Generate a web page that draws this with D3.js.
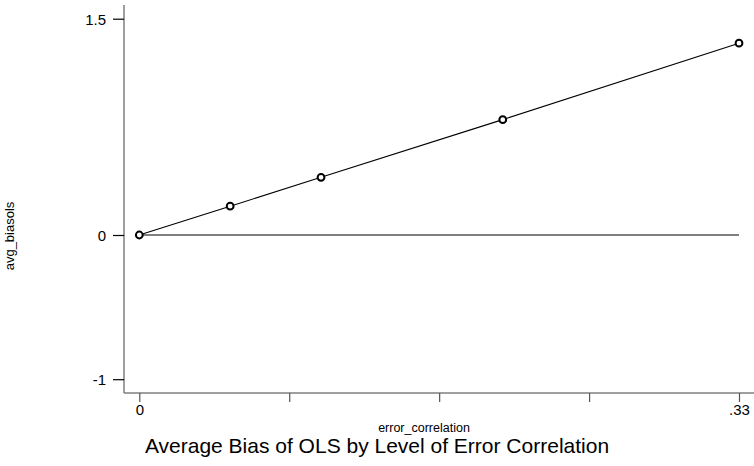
<!DOCTYPE html>
<html>
<head>
<meta charset="utf-8">
<script src="https://cdn.jsdelivr.net/npm/d3@7"></script>
<style>
  body { margin: 0; background: #fff; }
  text { font-family: Arial, "Liberation Sans", sans-serif; fill: #000; }
</style>
</head>
<body>
<script>
// data
var errCorr = [0, 0.05, 0.1, 0.2, 0.33];
var avgBias = [0, 0.2, 0.4, 0.8, 1.33];
var yTicks = [-1, 0, 1.5];
var xTicks = [0, 0.0825, 0.165, 0.2475, 0.33];
var xTickLabels = ["0", "", "", "", ".33"];

var W = 754, H = 466;
var axisX = 124, axisY = 393;
var font = "Arial, 'Liberation Sans', sans-serif";

var svg = d3.select("body").append("svg")
    .attr("width", W)
    .attr("height", H);

var xScale = d3.scaleLinear().domain([0, 0.33]).range([139.3, 739]);
var yScale = d3.scaleLinear().domain([-1, 1.5]).range([379.2, 18.7]);

// axis lines (gray)
svg.append("line")
    .attr("x1", axisX).attr("x2", axisX)
    .attr("y1", 5).attr("y2", axisY)
    .attr("stroke", "#7f7f7f").attr("stroke-width", 1.5);
svg.append("line")
    .attr("x1", axisX).attr("x2", W)
    .attr("y1", axisY).attr("y2", axisY)
    .attr("stroke", "#7f7f7f").attr("stroke-width", 1.5);

// y axis
var yAxis = svg.append("g")
    .attr("transform", `translate(${axisX},0)`)
    .call(d3.axisLeft(yScale).tickValues(yTicks).tickSize(11).tickSizeOuter(0)
        .tickFormat(function(d){ return String(d); }));
yAxis.select(".domain").remove();
yAxis.attr("font-size", null).attr("font-family", null);
yAxis.selectAll(".tick line").attr("stroke", "#000").attr("stroke-width", 1.2);
yAxis.selectAll(".tick text").attr("x", -18).attr("dy", "0.36em")
    .style("font-size", "15px").style("font-family", font);

// x axis
var xAxis = svg.append("g")
    .attr("transform", `translate(0,${axisY})`)
    .call(d3.axisBottom(xScale).tickValues(xTicks).tickSize(9).tickSizeOuter(0)
        .tickFormat(function(d, i){ return xTickLabels[i]; }));
xAxis.select(".domain").remove();
xAxis.attr("font-size", null).attr("font-family", null);
xAxis.selectAll(".tick line").attr("stroke", "#555").attr("stroke-width", 1.2);
xAxis.selectAll(".tick text").attr("y", 11)
    .style("font-size", "15px").style("font-family", font);

// zero reference line
svg.append("line")
    .attr("x1", xScale(0)).attr("x2", xScale(0.33))
    .attr("y1", yScale(0)).attr("y2", yScale(0))
    .attr("stroke", "#000").attr("stroke-width", 1.2);

// connected series
var pts = errCorr.map(function(x, i){ return {x: x, y: avgBias[i]}; });
var line = d3.line().x(function(d){ return xScale(d.x); }).y(function(d){ return yScale(d.y); });
svg.append("path")
    .datum(pts)
    .attr("d", line)
    .attr("fill", "none")
    .attr("stroke", "#000")
    .attr("stroke-width", 1.1);

svg.selectAll(".pt").data(pts).enter().append("circle")
    .attr("class", "pt")
    .attr("cx", function(d){ return xScale(d.x); })
    .attr("cy", function(d){ return yScale(d.y); })
    .attr("r", 3.4)
    .attr("fill", "#fff")
    .attr("stroke", "#000")
    .attr("stroke-width", 2);

// titles
svg.append("text")
    .attr("transform", "translate(14,236) rotate(-90)")
    .attr("text-anchor", "middle")
    .style("font-size", "13px")
    .text("avg_biasols");

svg.append("text")
    .attr("x", 424).attr("y", 432)
    .attr("text-anchor", "middle")
    .style("font-size", "12.5px")
    .text("error_correlation");

svg.append("text")
    .attr("x", 377).attr("y", 453)
    .attr("text-anchor", "middle")
    .style("font-size", "21px")
    .text("Average Bias of OLS by Level of Error Correlation");
</script>
</body>
</html>
